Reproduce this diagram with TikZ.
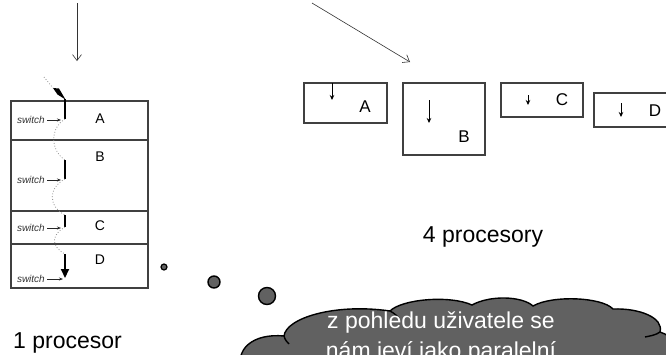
\documentclass[tikz,border=0pt]{standalone}
\usepackage{fontspec}
\setmainfont{Liberation Sans}
\usetikzlibrary{arrows.meta}
\begin{document}
\begin{tikzpicture}[x=1pt,y=-1pt,
  boxline/.style={draw=black!75,line width=1.1pt,inner sep=0pt},
  lbl/.style={font=\fontsize{17}{17}\selectfont,inner sep=0pt},
  slbl/.style={font=\fontsize{14}{14}\selectfont,inner sep=0pt},
  sw/.style={font=\fontsize{10}{10}\selectfont\itshape,text=black!80,inner sep=0pt,anchor=east},
  swarrow/.style={black!85,line width=0.6pt,-{Stealth[length=4pt,width=3pt]}},
  seg/.style={line width=2.2pt},
  flow/.style={dotted,black!45,line width=0.8pt},
  parr/.style={line width=0.8pt,-{Stealth[length=5pt,width=4.5pt]}},
  toparr/.style={black!80,line width=0.6pt,-{Straight Barb[length=6pt,width=9pt]}},
  bubble/.style={fill=black!62,draw=black,line width=1.4pt},
  big/.style={font=\fontsize{23}{23}\selectfont,inner sep=0pt}
]
\clip (0,0) rectangle (666,354);
\fill[white] (0,0) rectangle (666,354);

% top arrows
\coordinate (t1s) at (77,3);
\coordinate (t1e) at (77,61);
\coordinate (t2s) at (312,3);
\coordinate (t2e) at (410,62);
\draw[toparr] (t1s) -- (t1e);
\draw[toparr] (t2s) -- (t2e);

% stack (1 processor)
\node[boxline,draw,minimum width=137pt,minimum height=39pt] (rA) at (79.5,120.5) {};
\node[boxline,draw,minimum width=137pt,minimum height=71pt] (rB) at (79.5,175.5) {};
\node[boxline,draw,minimum width=137pt,minimum height=33pt] (rC) at (79.5,227.5) {};
\node[boxline,draw,minimum width=137pt,minimum height=44pt] (rD) at (79.5,266) {};
\node[slbl] (lA) at (100,119) {A};
\node[slbl] (lB) at (100,157) {B};
\node[slbl] (lC) at (100,226) {C};
\node[slbl] (lD) at (100,260) {D};

% execution segments
\coordinate (fin) at (44,77);
\fill (53,88) -- (59,88.5) -- (65.5,99.5) -- (57.5,94.5) -- cycle;
\coordinate (a1) at (65,99);
\coordinate (a2) at (65,119);
\coordinate (b1) at (65,160);
\coordinate (b2) at (65,179);
\coordinate (c1) at (65,215);
\coordinate (c2) at (65,227);
\coordinate (d1) at (65,254);
\coordinate (d2) at (65,278);
\draw[seg] (a1) -- (a2);
\draw[seg] (b1) -- (b2);
\draw[seg] (c1) -- (c2);
\draw[seg,-{Triangle[length=9pt,width=8pt]}] (d1) -- (d2);
\draw[flow] (fin) -- (53,88);
\draw[flow] (a2) .. controls (50,128) and (50,150) .. (b1);
\draw[flow] (b2) .. controls (48,188) and (48,206) .. (c1);
\draw[flow] (c2) .. controls (52,234) and (50,246) .. (d1);

% switch labels
\node[sw] (s1) at (45,120) {switch};
\node[sw] (s2) at (45,180) {switch};
\node[sw] (s3) at (45,228) {switch};
\node[sw] (s4) at (45,279) {switch};
\draw[swarrow] (s1.east) ++(2,0) -- (61,120);
\draw[swarrow] (s2.east) ++(2,0) -- (61,180);
\draw[swarrow] (s3.east) ++(2,0) -- (61,228);
\draw[swarrow] (s4.east) ++(2,0) -- (63,279);

% 4 processors
\node[boxline,draw,minimum width=83pt,minimum height=40pt] (pA) at (345.5,103) {};
\node[boxline,draw,minimum width=82pt,minimum height=72pt] (pB) at (444,119) {};
\node[boxline,draw,minimum width=82pt,minimum height=34pt] (pC) at (542,100) {};
\node[boxline,draw,minimum width=88pt,minimum height=34pt] (pD) at (638,110) {};
\node[lbl] (qA) at (365,107) {A};
\node[lbl] (qB) at (464,137) {B};
\node[lbl] (qC) at (562,100) {C};
\node[lbl] (qD) at (655,111) {D};
\draw[parr] (332,83) -- (332,100);
\draw[parr] (429,100) -- (429,123);
\draw[parr] (528,95) -- (528,105);
\draw[parr] (621,103) -- (621,117);

\node[big,anchor=base] (four) at (483,242) {4 procesory};
\node[big,anchor=base west] (one) at (13,348) {1 procesor};

% thought bubbles
\node[bubble,circle,minimum size=6pt,inner sep=0pt,line width=1.2pt] (b1c) at (164,267) {};
\node[bubble,circle,minimum size=12pt,inner sep=0pt] (b2c) at (214,282) {};
\node[bubble,circle,minimum size=17pt,inner sep=0pt] (b3c) at (267,296) {};

% cloud
\path[bubble] (242,372)
  .. controls (234,350) and (252,333) .. (284,336)
  .. controls (286,318) and (335,303) .. (390,311)
  .. controls (402,299) and (450,295) .. (472,305)
  .. controls (490,295) and (522,296) .. (533,306)
  .. controls (552,295) and (602,297) .. (613,309)
  .. controls (640,308) and (664,318) .. (660,332)
  .. controls (674,336) and (684,352) .. (684,372)
  -- cycle;
\draw[black,line width=1.4pt] (284,336) .. controls (285,340) and (287,342) .. (289,344);
\draw[black,line width=1.4pt] (390,311) .. controls (394,313) and (397,316) .. (399,318);
\draw[black,line width=1.4pt] (660,332) .. controls (656,335) and (650,336) .. (645,337);
\node[big,text=white,anchor=base] (ct1) at (441,328) {z pohledu uživatele se};
\node[big,text=white,anchor=base] (ct2) at (441,358) {nám jeví jako paralelní};
\end{tikzpicture}
\end{document}
